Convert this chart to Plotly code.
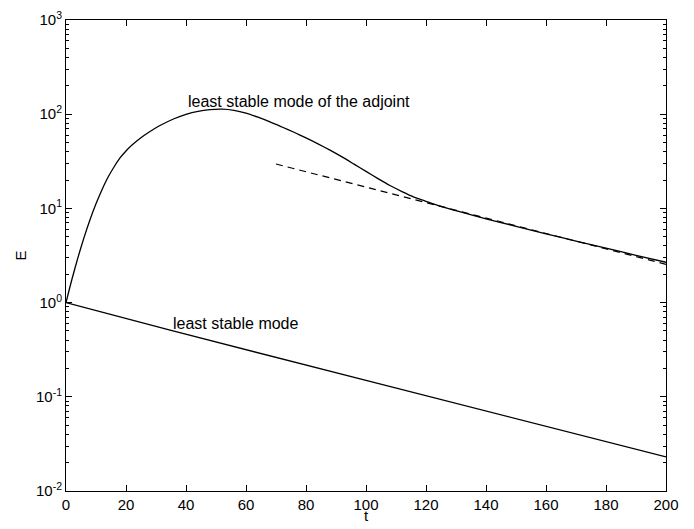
import plotly.graph_objects as go

# Least stable mode of the adjoint (solid, transient growth)
t_adj = [0, 2, 4, 6, 8, 10, 12, 14, 16, 18, 20, 22, 24, 26, 28, 30, 32, 36, 40, 44, 48, 52, 56, 60, 64, 68, 72,
         76, 80, 84, 88, 92, 96, 100, 104, 108, 112, 116, 120, 125, 130, 140, 150, 160, 170, 180, 190, 200]
E_adj = [1.0, 1.78, 3.02, 4.90, 7.59, 11.2, 15.8, 21.4, 27.5, 34.3, 40.7, 47.0, 53.2, 59.4, 65.6, 71.8, 77.8,
         89.5, 99.8, 107.4, 111.7, 113.0, 109.9, 102.8, 92.9, 82.8, 73.1, 64.3, 56.1, 48.5, 41.5, 35.2, 29.5,
         24.7, 20.7, 17.5, 15.1, 13.2, 11.9, 10.5, 9.46, 7.76, 6.46, 5.37, 4.50, 3.78, 3.18, 2.68]

# Asymptotic decay (dashed)
t_asym = [70, 200]
E_asym = [29.6, 2.55]

# Least stable mode (solid, exponential decay)
t_mode = [0, 34.7, 100, 200]
E_mode = [1.0, 0.51, 0.149, 0.023]

x_ticks = [0, 20, 40, 60, 80, 100, 120, 140, 160, 180, 200]
y_ticks = [1e-2, 1e-1, 1e0, 1e1, 1e2, 1e3]
y_tick_text = ["10<sup>-2</sup>", "10<sup>-1</sup>", "10<sup>0</sup>", "10<sup>1</sup>", "10<sup>2</sup>", "10<sup>3</sup>"]
y_minor = [m * d for d in [1e-2, 1e-1, 1e0, 1e1, 1e2] for m in range(2, 10)]

FONT = "Liberation Sans, Arial, Helvetica, sans-serif"
line_style = dict(color="black", width=1.3)

fig = go.Figure()
fig.add_trace(go.Scatter(x=t_adj, y=E_adj, mode="lines", line=dict(line_style, shape="spline", smoothing=0.6),
                         showlegend=False))
fig.add_trace(go.Scatter(x=t_asym, y=E_asym, mode="lines",
                         line=dict(color="black", width=1.2, dash="7px,5px"), showlegend=False))
fig.add_trace(go.Scatter(x=t_mode, y=E_mode, mode="lines", line=line_style, showlegend=False))

fig.add_annotation(x=40.0, y=2.14, xref="x", yref="y", text="least stable mode of the adjoint",
                   showarrow=False, xanchor="left", yanchor="middle",
                   font=dict(family=FONT, size=16, color="black"))
fig.add_annotation(x=35.1, y=-0.217, xref="x", yref="y", text="least stable mode",
                   showarrow=False, xanchor="left", yanchor="middle",
                   font=dict(family=FONT, size=16, color="black"))
# axis titles
fig.add_annotation(x=-46 / 600, y=0.5, xref="paper", yref="paper", text="E", textangle=-90,
                   showarrow=False, xanchor="center", yanchor="middle",
                   font=dict(family=FONT, size=15, color="black"))
fig.add_annotation(x=0.5, y=-24 / 471, xref="paper", yref="paper", text="t",
                   showarrow=False, xanchor="center", yanchor="middle",
                   font=dict(family=FONT, size=15, color="black"))

axis_common = dict(showgrid=False, zeroline=False, showline=True, linecolor="black", linewidth=1,
                   mirror="ticks", ticks="inside", tickcolor="black", ticklen=6, tickwidth=1,
                   automargin=False,
                   tickfont=dict(family=FONT, size=15, color="black"))

fig.update_xaxes(range=[0, 200], tickvals=x_ticks, ticktext=[str(v) for v in x_ticks], **axis_common)
fig.update_yaxes(type="log", range=[-2, 3], tickvals=y_ticks, ticktext=y_tick_text,
                 minor=dict(tickvals=y_minor, ticks="inside", ticklen=3, tickcolor="black", tickwidth=1,
                            showgrid=False),
                 **axis_common)

# page body has an 8px default margin, so the figure is sized/offset to compensate
fig.update_layout(width=686, height=521, margin=dict(l=58, r=28, t=12, b=38),
                  plot_bgcolor="white", paper_bgcolor="white")

fig.write_html("out.html")
